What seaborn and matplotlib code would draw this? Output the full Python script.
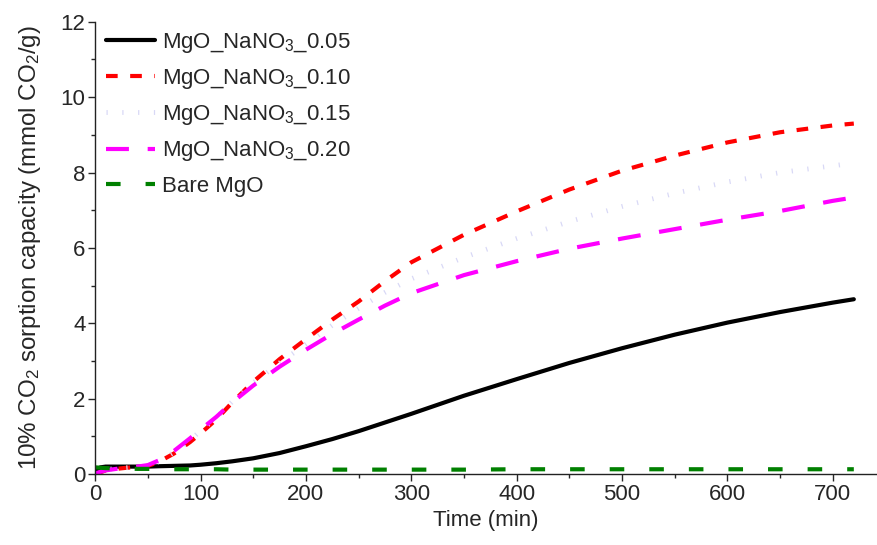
import matplotlib
matplotlib.use("Agg")
import matplotlib.pyplot as plt
import seaborn as sns
import numpy as np

time = [0, 5, 10, 20, 30, 40, 50, 60, 75, 90, 100, 115, 130, 150, 175, 200, 225, 250, 275, 300,
        350, 400, 450, 500, 550, 600, 650, 700, 720]
mgo_005 = [0.10, 0.18, 0.20, 0.20, 0.20, 0.20, 0.20, 0.21, 0.22, 0.23, 0.25, 0.29, 0.34, 0.42, 0.56, 0.74,
           0.93, 1.14, 1.37, 1.60, 2.08, 2.52, 2.95, 3.34, 3.70, 4.02, 4.30, 4.55, 4.64]
mgo_010 = [0.00, 0.05, 0.10, 0.14, 0.17, 0.19, 0.22, 0.32, 0.55, 0.85, 1.08, 1.45, 1.90, 2.45, 3.05, 3.58,
           4.10, 4.58, 5.12, 5.62, 6.35, 6.97, 7.55, 8.05, 8.45, 8.80, 9.07, 9.25, 9.30]
mgo_015 = [0.05, 0.08, 0.12, 0.15, 0.17, 0.19, 0.22, 0.33, 0.58, 0.90, 1.15, 1.50, 1.92, 2.42, 2.95, 3.45,
           3.95, 4.40, 4.82, 5.18, 5.75, 6.25, 6.70, 7.10, 7.45, 7.75, 8.00, 8.18, 8.25]
mgo_020 = [0.02, 0.06, 0.10, 0.14, 0.17, 0.20, 0.24, 0.36, 0.62, 0.95, 1.18, 1.52, 1.90, 2.35, 2.85, 3.30,
           3.72, 4.10, 4.47, 4.80, 5.28, 5.65, 5.98, 6.25, 6.50, 6.75, 6.98, 7.25, 7.34]
bare_mgo = [0.18, 0.17, 0.16, 0.15, 0.15, 0.14, 0.14, 0.14, 0.13, 0.13, 0.13, 0.13, 0.12, 0.12, 0.12, 0.12,
            0.12, 0.12, 0.12, 0.12, 0.12, 0.13, 0.13, 0.13, 0.13, 0.13, 0.13, 0.13, 0.13]

labels = ["MgO_NaNO$\\mathregular{_3}$_0.05", "MgO_NaNO$\\mathregular{_3}$_0.10",
          "MgO_NaNO$\\mathregular{_3}$_0.15", "MgO_NaNO$\\mathregular{_3}$_0.20", "Bare MgO"]
series = [mgo_005, mgo_010, mgo_015, mgo_020, bare_mgo]
colors = ["black", "#FF0000", "#D8D8F6", "#FF00FF", "#008000"]
widths = [3.0, 3.0, 3.5, 3.0, 3.0]
dash_patterns = [None, (2.8, 3.0), (0.25, 3.0), (5.5, 4.5), (3.5, 6.0)]
x_ticks = [0, 100, 200, 300, 400, 500, 600, 700]
y_ticks = [0, 2, 4, 6, 8, 10, 12]

sns.set_style("ticks")
plt.rcParams["font.family"] = ["Liberation Sans", "DejaVu Sans"]
plt.rcParams["mathtext.fontset"] = "custom"
plt.rcParams["mathtext.rm"] = "Liberation Sans"
plt.rcParams["mathtext.it"] = "Liberation Sans:italic"

fig = plt.figure(figsize=(8.77, 5.45), dpi=100)
ax = fig.add_axes([0.1085, 0.13, 0.8915, 0.83])

for lab, ser, col, lw, dp in zip(labels, series, colors, widths, dash_patterns):
    sns.lineplot(x=time, y=ser, ax=ax, color=col, label=lab, linewidth=lw)
    line = ax.lines[-1]
    if dp is not None:
        line.set_dashes(dp)
        line.set_dash_capstyle("butt")

ax.set_xlim(0, 742)
ax.set_ylim(0, 12)
ax.set_xticks(x_ticks)
ax.set_yticks(y_ticks)
ax.set_xticks(np.arange(50, 742, 100), minor=True)
ax.set_yticks(np.arange(1, 12, 2), minor=True)
ax.tick_params(axis="both", which="major", direction="out", length=5, width=1, labelsize=16, pad=2)
ax.tick_params(axis="both", which="minor", direction="out", length=3, width=1)
for s in ["top", "right"]:
    ax.spines[s].set_visible(False)
for s in ["left", "bottom"]:
    ax.spines[s].set_linewidth(1)
    ax.spines[s].set_color("#222222")

ax.set_xlabel("Time (min)", fontsize=16, labelpad=4)
ax.set_ylabel("10% CO$\\mathregular{_2}$ sorption capacity (mmol CO$\\mathregular{_2}$/g)",
              fontsize=17.4, labelpad=13)

leg = ax.legend(loc="upper left", frameon=False, fontsize=16, handlelength=2.2,
                handletextpad=0.3, labelspacing=0.55, borderaxespad=0.0,
                bbox_to_anchor=(0.003, 1.0))

fig.savefig("out.png", dpi=100)
